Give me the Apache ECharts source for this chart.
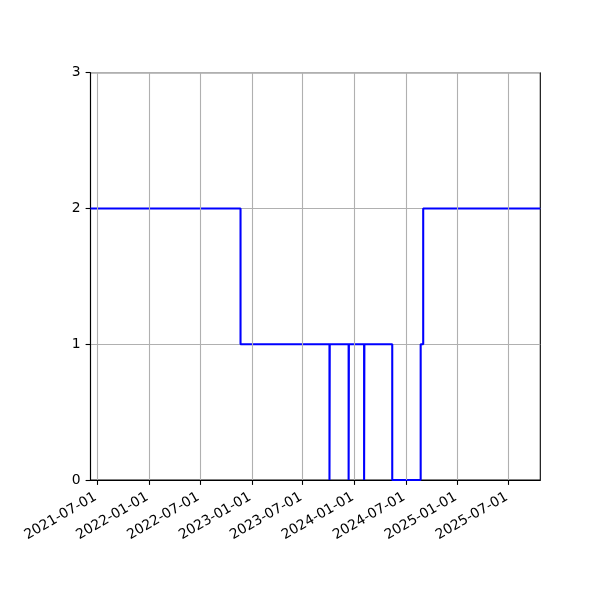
<!DOCTYPE html>
<html>
<head>
<meta charset="utf-8">
<script src="https://cdn.jsdelivr.net/npm/echarts@6/dist/echarts.min.js"></script>
<style>
  html, body { margin: 0; padding: 0; background: #fff; }
  #chart { width: 600px; height: 600px; }
</style>
</head>
<body>
<div id="chart"></div>
<script>
// Step points: value holds from its date until the next date
var stepDates = ['2021-06-07', '2022-11-22', '2023-10-04', '2023-10-05', '2023-12-11', '2023-12-12',
                 '2024-02-04', '2024-02-05', '2024-05-14', '2024-08-23', '2024-09-01', '2025-10-22'];
var stepValues = [2, 1, 0, 1, 0, 1, 0, 1, 0, 1, 2, 2];

// Tick labels on the date axis
var tickDates = ['2021-07-01', '2022-01-01', '2022-07-01', '2023-01-01', '2023-07-01',
                 '2024-01-01', '2024-07-01', '2025-01-01', '2025-07-01'];
var xStart = '2021-06-07';
var xEnd = '2025-10-22';

function toTime(s) {
    var p = s.split('-');
    return Date.UTC(+p[0], +p[1] - 1, +p[2]);
}

function pad(n) { return (n < 10 ? '0' : '') + n; }

function fmtDate(t) {
    var d = new Date(t);
    return d.getUTCFullYear() + '-' + pad(d.getUTCMonth() + 1) + '-' + pad(d.getUTCDate());
}

var lineData = stepDates.map(function(d, i) { return [toTime(d), stepValues[i]]; });
var tickTimes = tickDates.map(toTime);

var chart = echarts.init(document.getElementById('chart'));
chart.setOption({
    animation: false,
    grid: {
        left: 90.5, right: 59.7, top: 72.7, bottom: 120,
        show: true, borderColor: '#000', borderWidth: 1.1, backgroundColor: 'transparent'
    },
    xAxis: {
        type: 'value',
        min: toTime(xStart),
        max: toTime(xEnd),
        axisLine: { show: true, lineStyle: { color: '#000', width: 1.1 } },
        axisTick: { show: true, customValues: tickTimes, length: 4.9, lineStyle: { color: '#000', width: 1.1 } },
        axisLabel: {
            customValues: tickTimes,
            rotate: 30,
            margin: 15,
            padding: [0, 2, 0, 0],
            color: '#000',
            fontFamily: 'DejaVu Sans',
            fontSize: 13.9,
            formatter: function(v) { return fmtDate(v); }
        },
        splitLine: { show: false }
    },
    yAxis: {
        type: 'value',
        min: 0,
        max: 3,
        interval: 1,
        axisLine: { show: true, lineStyle: { color: '#000', width: 1.1 } },
        axisTick: { show: true, length: 4.9, lineStyle: { color: '#000', width: 1.1 } },
        axisLabel: { margin: 10, color: '#000', fontFamily: 'DejaVu Sans', fontSize: 13.9 },
        splitLine: { show: true, lineStyle: { color: '#b0b0b0', width: 1.1 } }
    },
    series: [
        {
            // carrier for the vertical grid lines, drawn under the data line
            type: 'line',
            data: lineData,
            showSymbol: false,
            silent: true,
            z: 1,
            lineStyle: { opacity: 0 },
            markLine: {
                symbol: 'none',
                silent: true,
                animation: false,
                label: { show: false },
                lineStyle: { color: '#b0b0b0', width: 1.1, type: 'solid' },
                data: tickTimes.map(function(t) { return { xAxis: t }; })
            }
        },
        {
            type: 'line',
            step: 'end',
            data: lineData,
            showSymbol: false,
            z: 3,
            lineStyle: { color: '#0000ff', width: 2.08 }
        }
    ]
});
</script>
</body>
</html>
